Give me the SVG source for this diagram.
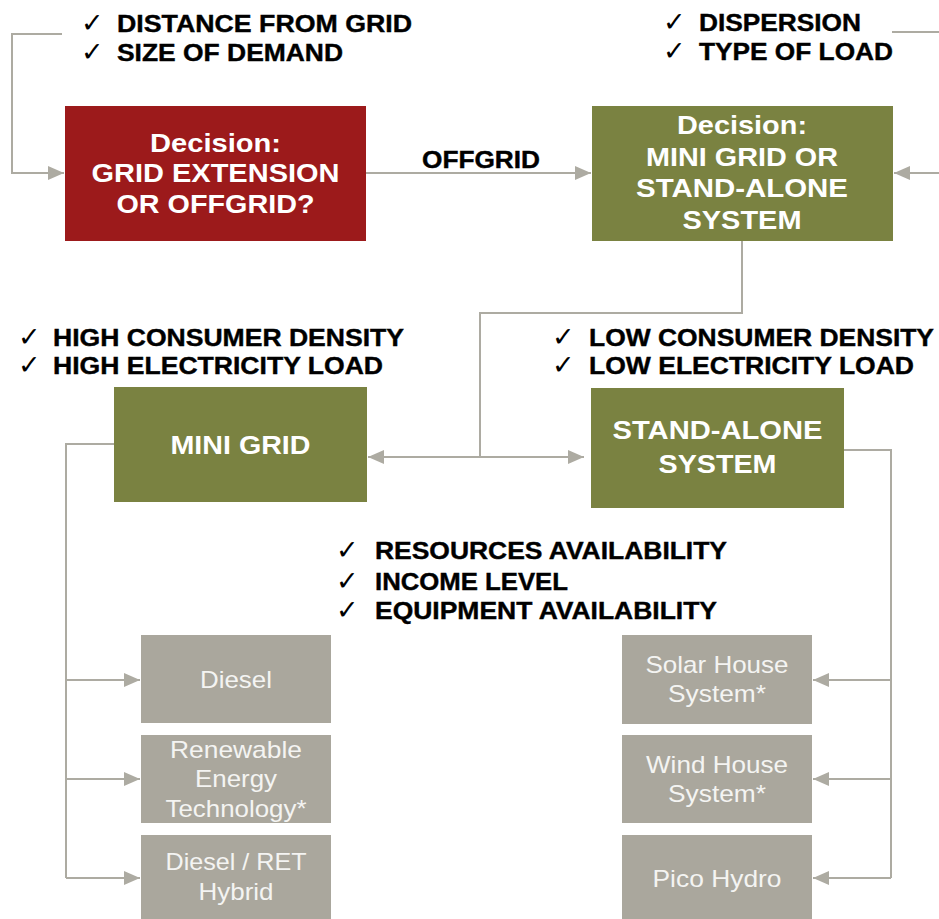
<svg xmlns="http://www.w3.org/2000/svg" width="939" height="919" viewBox="0 0 939 919">
<style>
.lbl{font-family:"Liberation Sans",Arial,sans-serif;font-weight:bold;font-size:24px;fill:#000;stroke:#000;stroke-width:0.4}
.chk{font-family:"DejaVu Sans",sans-serif;font-size:27px;fill:#000}
.bt{font-family:"Liberation Sans",Arial,sans-serif;font-weight:bold;font-size:26px;fill:#fff;text-anchor:middle}
.gt{font-family:"Liberation Sans",Arial,sans-serif;font-size:24px;fill:#f4f4f2;text-anchor:middle}
.red{fill:#9c1a1b}
.green{fill:#7a8241}
.grey{fill:#aaa79d}
.con{fill:none;stroke:#adaba2;stroke-width:2}
</style>
<defs>
<marker id="ah" viewBox="0 0 16 14" refX="16" refY="7" markerWidth="16" markerHeight="14" markerUnits="userSpaceOnUse" orient="auto-start-reverse">
<path d="M0,0 L16,7 L0,14 z" fill="#adaba2"/>
</marker>
</defs>

<g id="connectors">
<polyline class="con" points="62,34 12,34 12,173 64,173" marker-end="url(#ah)"/>
<line class="con" x1="366" y1="173" x2="591" y2="173" marker-end="url(#ah)"/>
<line class="con" x1="892" y1="32" x2="939" y2="32"/>
<line class="con" x1="939" y1="173" x2="894" y2="173" marker-end="url(#ah)"/>
<polyline class="con" points="742,241 742,313 480,313 480,457"/>
<line class="con" x1="368" y1="457" x2="584" y2="457" marker-start="url(#ah)" marker-end="url(#ah)"/>
<polyline class="con" points="114,444 66,444 66,878"/>
<line class="con" x1="66" y1="680" x2="140" y2="680" marker-end="url(#ah)"/>
<line class="con" x1="66" y1="779" x2="140" y2="779" marker-end="url(#ah)"/>
<line class="con" x1="66" y1="878" x2="140" y2="878" marker-end="url(#ah)"/>
<polyline class="con" points="844,450 891,450 891,878"/>
<line class="con" x1="891" y1="680" x2="813" y2="680" marker-end="url(#ah)"/>
<line class="con" x1="891" y1="779" x2="813" y2="779" marker-end="url(#ah)"/>
<line class="con" x1="891" y1="878" x2="813" y2="878" marker-end="url(#ah)"/>
</g>

<g id="criteria-grid">
<text class="chk" x="81" y="32">✓</text>
<text class="lbl" x="117" y="32" textLength="295" lengthAdjust="spacingAndGlyphs">DISTANCE FROM GRID</text>
<text class="chk" x="81" y="61">✓</text>
<text class="lbl" x="117" y="61" textLength="226" lengthAdjust="spacingAndGlyphs">SIZE OF DEMAND</text>
</g>

<g id="criteria-dispersion">
<text class="chk" x="663" y="31">✓</text>
<text class="lbl" x="699" y="31" textLength="162" lengthAdjust="spacingAndGlyphs">DISPERSION</text>
<text class="chk" x="663" y="60">✓</text>
<text class="lbl" x="699" y="60" textLength="194" lengthAdjust="spacingAndGlyphs">TYPE OF LOAD</text>
</g>

<g id="offgrid-label">
<text class="lbl" x="422" y="168" textLength="118" lengthAdjust="spacingAndGlyphs">OFFGRID</text>
</g>

<g id="decision-grid">
<rect class="red" x="65" y="106" width="301" height="135"/>
<text class="bt" x="215.5" y="152" textLength="131" lengthAdjust="spacingAndGlyphs">Decision:</text>
<text class="bt" x="215.5" y="182" textLength="248" lengthAdjust="spacingAndGlyphs">GRID EXTENSION</text>
<text class="bt" x="215.5" y="213" textLength="198" lengthAdjust="spacingAndGlyphs">OR OFFGRID?</text>
</g>

<g id="decision-mini">
<rect class="green" x="592" y="106" width="301" height="135"/>
<text class="bt" x="742" y="134" textLength="130" lengthAdjust="spacingAndGlyphs">Decision:</text>
<text class="bt" x="742" y="166" textLength="192" lengthAdjust="spacingAndGlyphs">MINI GRID OR</text>
<text class="bt" x="742" y="197" textLength="212" lengthAdjust="spacingAndGlyphs">STAND-ALONE</text>
<text class="bt" x="742" y="229" textLength="119" lengthAdjust="spacingAndGlyphs">SYSTEM</text>
</g>

<g id="criteria-high">
<text class="chk" x="18" y="346">✓</text>
<text class="lbl" x="53" y="346" textLength="351" lengthAdjust="spacingAndGlyphs">HIGH CONSUMER DENSITY</text>
<text class="chk" x="18" y="374">✓</text>
<text class="lbl" x="53" y="374" textLength="330" lengthAdjust="spacingAndGlyphs">HIGH ELECTRICITY LOAD</text>
</g>

<g id="criteria-low">
<text class="chk" x="552" y="346">✓</text>
<text class="lbl" x="589" y="346" textLength="345" lengthAdjust="spacingAndGlyphs">LOW CONSUMER DENSITY</text>
<text class="chk" x="552" y="374">✓</text>
<text class="lbl" x="589" y="374" textLength="325" lengthAdjust="spacingAndGlyphs">LOW ELECTRICITY LOAD</text>
</g>

<g id="mini-grid">
<rect class="green" x="114" y="387" width="253" height="115"/>
<text class="bt" x="240.5" y="454" textLength="140" lengthAdjust="spacingAndGlyphs">MINI GRID</text>
</g>

<g id="stand-alone">
<rect class="green" x="591" y="388" width="253" height="120"/>
<text class="bt" x="717.5" y="439" textLength="210" lengthAdjust="spacingAndGlyphs">STAND-ALONE</text>
<text class="bt" x="717.5" y="473" textLength="118" lengthAdjust="spacingAndGlyphs">SYSTEM</text>
</g>

<g id="criteria-resources">
<text class="chk" x="336" y="559">✓</text>
<text class="lbl" x="375" y="559" textLength="352" lengthAdjust="spacingAndGlyphs">RESOURCES AVAILABILITY</text>
<text class="chk" x="336" y="590">✓</text>
<text class="lbl" x="375" y="590" textLength="193" lengthAdjust="spacingAndGlyphs">INCOME LEVEL</text>
<text class="chk" x="336" y="619">✓</text>
<text class="lbl" x="375" y="619" textLength="342" lengthAdjust="spacingAndGlyphs">EQUIPMENT AVAILABILITY</text>
</g>

<g id="diesel">
<rect class="grey" x="141" y="635" width="190" height="88"/>
<text class="gt" x="236" y="688" textLength="72" lengthAdjust="spacingAndGlyphs">Diesel</text>
</g>

<g id="ret">
<rect class="grey" x="141" y="735" width="190" height="88"/>
<text class="gt" x="236" y="758" textLength="132" lengthAdjust="spacingAndGlyphs">Renewable</text>
<text class="gt" x="236" y="787" textLength="82" lengthAdjust="spacingAndGlyphs">Energy</text>
<text class="gt" x="236" y="817" textLength="141" lengthAdjust="spacingAndGlyphs">Technology*</text>
</g>

<g id="hybrid">
<rect class="grey" x="141" y="835" width="190" height="84"/>
<text class="gt" x="236" y="870" textLength="141" lengthAdjust="spacingAndGlyphs">Diesel / RET</text>
<text class="gt" x="236" y="900" textLength="75" lengthAdjust="spacingAndGlyphs">Hybrid</text>
</g>

<g id="solar">
<rect class="grey" x="622" y="635" width="190" height="89"/>
<text class="gt" x="717" y="673" textLength="143" lengthAdjust="spacingAndGlyphs">Solar House</text>
<text class="gt" x="717" y="702" textLength="98" lengthAdjust="spacingAndGlyphs">System*</text>
</g>

<g id="wind">
<rect class="grey" x="622" y="735" width="190" height="88"/>
<text class="gt" x="717" y="773" textLength="142" lengthAdjust="spacingAndGlyphs">Wind House</text>
<text class="gt" x="717" y="802" textLength="98" lengthAdjust="spacingAndGlyphs">System*</text>
</g>

<g id="pico">
<rect class="grey" x="622" y="835" width="190" height="84"/>
<text class="gt" x="717" y="887" textLength="129" lengthAdjust="spacingAndGlyphs">Pico Hydro</text>
</g>
</svg>
